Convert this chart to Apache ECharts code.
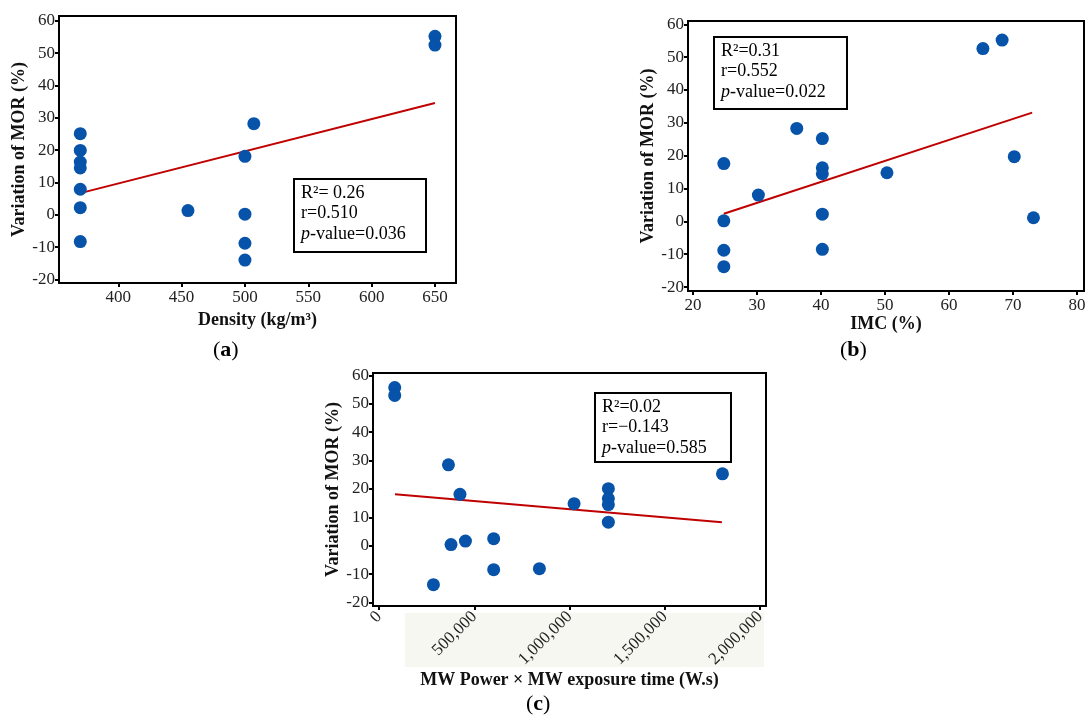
<!DOCTYPE html>
<html>
<head>
<meta charset="utf-8">
<script src="https://cdn.jsdelivr.net/npm/echarts@6/dist/echarts.min.js"></script>
<style>
  html, body { margin: 0; padding: 0; background: #fff; }
  #main { width: 1089px; height: 717px; }
</style>
</head>
<body>
<div id="main"></div>
<script>
// (a) density
var densityX = [370, 370, 370, 370, 370, 370, 370, 455, 500, 500, 500, 500, 507, 650, 650];
var morA = [25.1, 19.9, 16.3, 14.5, 7.9, 2.2, -8.3, 1.3, 18.1, 0.2, -8.8, -14.0, 28.2, 55.2, 52.5];
var fitA = [[370, 6.7], [650, 34.6]];
var ticksDensity = [400, 450, 500, 550, 600, 650];

// (b) IMC
var imcX = [24.8, 24.8, 24.8, 24.8, 30.2, 36.2, 40.2, 40.2, 40.2, 40.2, 40.2, 50.3, 65.3, 68.3, 70.2, 73.2];
var morB = [17.6, 0.15, -8.8, -13.8, 8.0, 28.3, 25.2, 16.3, 14.5, 2.2, -8.5, 14.8, 52.6, 55.2, 19.7, 1.1];
var fitB = [[24.8, 2.3], [73, 33.1]];
var ticksImc = [20, 30, 40, 50, 60, 70, 80];

// (c) MW power x time
var energyX = [82500, 82500, 285700, 364500, 378000, 425000, 453700, 602000, 602000, 842000, 1024000, 1204000, 1204000, 1204000, 1204000, 1803000];
var morC = [55.7, 52.9, -13.7, 28.5, 0.4, 18.1, 1.65, 2.5, -8.4, -8.05, 14.8, 20.1, 16.6, 14.5, 8.3, 25.3];
var fitC = [[84000, 18.1], [1800000, 8.3]];
var ticksEnergy = [0, 500000, 1000000, 1500000, 2000000];

var ticksMor = [-20, -10, 0, 10, 20, 30, 40, 50, 60];

function pairs(xs, ys) {
    var out = [];
    for (var i = 0; i < xs.length; i++) {
        out.push([xs[i], ys[i]]);
    }
    return out;
}

var serif = 'Liberation Serif';
var blue = '#0653a9';
var red = '#c00000';

function xAxisOf(idx, min, max, ticks, name, gap) {
    return {
        type: 'value',
        gridIndex: idx,
        min: min,
        max: max,
        name: name,
        nameLocation: 'middle',
        nameGap: gap,
        nameTextStyle: { fontFamily: serif, fontWeight: 'bold', fontSize: 18, color: '#111' },
        splitLine: { show: false },
        axisLine: { onZero: false, lineStyle: { color: '#000', width: 2 } },
        axisTick: { length: 4, lineStyle: { color: '#000', width: 2 }, customValues: ticks },
        axisLabel: { fontFamily: serif, fontSize: 17, color: '#222', margin: 6, customValues: ticks }
    };
}

function yAxisOf(idx, min, max) {
    return {
        type: 'value',
        gridIndex: idx,
        min: min,
        max: max,
        name: 'Variation of MOR (%)',
        nameLocation: 'middle',
        nameGap: 28,
        nameTextStyle: { fontFamily: serif, fontWeight: 'bold', fontSize: 18, color: '#111' },
        splitLine: { show: false },
        axisLine: { onZero: false, lineStyle: { color: '#000', width: 2 } },
        axisTick: { length: 4, lineStyle: { color: '#000', width: 2 }, customValues: ticksMor },
        axisLabel: { fontFamily: serif, fontSize: 17, color: '#222', margin: 4, customValues: ticksMor }
    };
}

function dots(idx, data) {
    return {
        type: 'scatter',
        xAxisIndex: idx,
        yAxisIndex: idx,
        data: data,
        symbolSize: 13,
        itemStyle: { color: blue, opacity: 1 },
        z: 3
    };
}

function fit(idx, data) {
    return {
        type: 'line',
        xAxisIndex: idx,
        yAxisIndex: idx,
        data: data,
        symbol: 'none',
        lineStyle: { color: red, width: 2 },
        z: 2
    };
}

// stats box: R², r and italic p
function statsBox(x, y, w, h, r2, r, p) {
    return [
        {
            type: 'rect',
            left: x, top: y,
            shape: { width: w, height: h },
            style: { fill: '#fff', stroke: '#000', lineWidth: 2 },
            z: 10
        },
        {
            type: 'text',
            left: x + 8, top: y + 6,
            style: {
                text: '{n|R²' + r2 + '}\n{n|r=' + r + '}\n{i|p}{n|-value=' + p + '}',
                rich: {
                    n: { fontFamily: serif, fontSize: 18, color: '#111', lineHeight: 20.5 },
                    i: { fontFamily: serif, fontSize: 18, fontStyle: 'italic', color: '#111', lineHeight: 20.5 }
                }
            },
            z: 11
        }
    ];
}

function panelLabel(cx, cy, letter) {
    return {
        type: 'text',
        left: cx - 14, top: cy - 13,
        style: {
            text: '{n|(}{b|' + letter + '}{n|)}',
            rich: {
                n: { fontFamily: serif, fontSize: 22, color: '#111' },
                b: { fontFamily: serif, fontSize: 22, fontWeight: 'bold', color: '#111' }
            }
        }
    };
}

var fmtComma = function (v) {
    return String(v).replace(/\B(?=(\d{3})+(?!\d))/g, ',');
};

var myChart = echarts.init(document.getElementById('main'));
var option = {
    backgroundColor: '#fff',
    animation: false,
    grid: [
        { left: 59, top: 16, width: 397, height: 267, show: true, borderColor: '#000', borderWidth: 2 },
        { left: 688, top: 21, width: 396, height: 270, show: true, borderColor: '#000', borderWidth: 2 },
        { left: 373, top: 373, width: 393, height: 233, show: true, borderColor: '#000', borderWidth: 2 }
    ],
    xAxis: [
        xAxisOf(0, 353.2, 666.6, ticksDensity, 'Density (kg/m³)', 28),
        xAxisOf(1, 19.2, 81.1, ticksImc, 'IMC (%)', 23),
        xAxisOf(2, -31500, 2031500, ticksEnergy, 'MW Power × MW exposure time (W.s)', 52)
    ],
    yAxis: [
        yAxisOf(0, -21.1, 61.5),
        yAxisOf(1, -21.2, 61),
        yAxisOf(2, -21.2, 60.8)
    ],
    series: [
        dots(0, pairs(densityX, morA)),
        fit(0, fitA),
        dots(1, pairs(imcX, morB)),
        fit(1, fitB),
        dots(2, pairs(energyX, morC)),
        fit(2, fitC)
    ],
    graphic: [
        {
            type: 'rect',
            left: 405, top: 613,
            shape: { width: 359, height: 54 },
            style: { fill: '#f7f7f1' },
            z: -1
        },
        panelLabel(227, 352, 'a'),
        panelLabel(854, 352, 'b'),
        panelLabel(540, 706, 'c')
    ]
        .concat(statsBox(293, 178, 132, 73, '= 0.26', '0.510', '0.036'))
        .concat(statsBox(713, 36, 133, 72, '=0.31', '0.552', '0.022'))
        .concat(statsBox(594, 392, 136, 69, '=0.02', '−0.143', '0.585'))
};
option.xAxis[2].axisLabel.rotate = 45;
option.xAxis[2].axisLabel.formatter = fmtComma;
option.xAxis[2].axisLabel.margin = 8;
myChart.setOption(option);

window.addEventListener('resize', function () {
    myChart.resize();
});
</script>
</body>
</html>
